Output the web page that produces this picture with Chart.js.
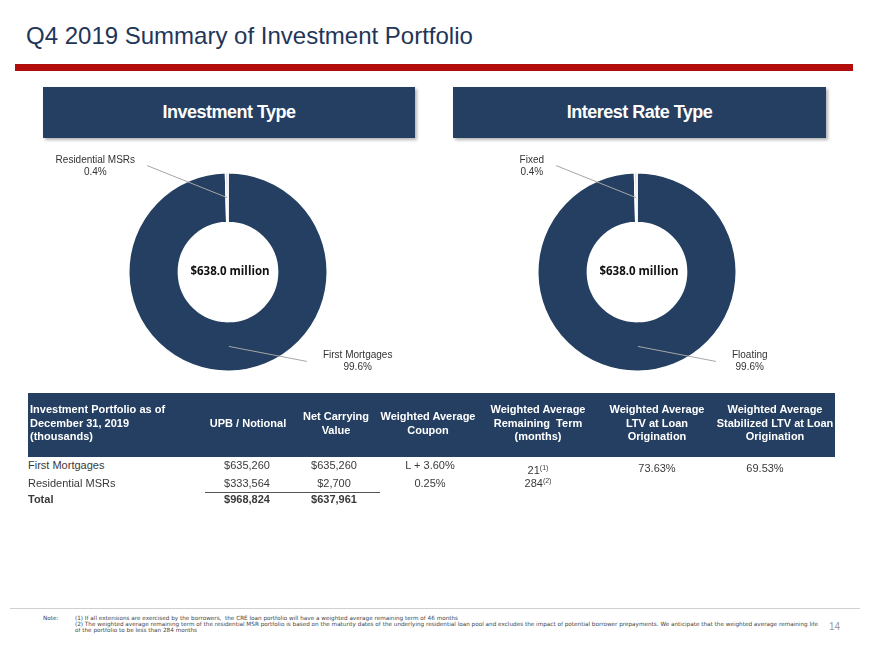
<!DOCTYPE html>
<html>
<head>
<meta charset="utf-8">
<script src="https://cdn.jsdelivr.net/npm/chart.js@4"></script>
<style>
  body { margin: 0; background: #fff; font-family: "Liberation Sans", Arial, sans-serif; }
  #page { position: relative; width: 870px; height: 652px; overflow: hidden; }
  .abs { position: absolute; }
  #title { left: 26px; top: 22px; font-size: 24px; color: #1f3658; white-space: nowrap; }
  #redline { left: 15px; top: 64px; width: 838px; height: 7px; background: #b10d0d; }
  .hbox { top: 87px; height: 51px; background: #243f61; color: #fff; font-weight: bold; font-size: 18px;
          letter-spacing: -0.5px; text-align: center; line-height: 51px; box-shadow: 2px 2px 3px rgba(0,0,0,0.3); }
  canvas { position: absolute; }
  #band { left: 28px; top: 393px; width: 807px; height: 64px; background: #243f61; }
  .th { color: #fff; font-weight: bold; font-size: 11px; line-height: 13.5px; text-align: center; white-space: nowrap; }
  .td { color: #3a3a3a; font-size: 11px; line-height: 13px; text-align: center; white-space: nowrap; }
  .td sup { font-size: 7px; vertical-align: 4px; }
  #totline { left: 205px; top: 492px; width: 175px; height: 1px; background: #555; }
  #footline { left: 10px; top: 608px; width: 850px; height: 1px; background: #d0d0d0; }
  .note { font-family: "DejaVu Sans", Verdana, sans-serif; font-size: 5.7px; line-height: 6.2px; color: #444; white-space: nowrap; }
  #pnum { left: 829px; top: 621px; font-size: 10px; color: #9a9a9a; }
</style>
</head>
<body>
<div id="page">
  <div id="title" class="abs">Q4 2019 Summary of Investment Portfolio</div>
  <div id="redline" class="abs"></div>
  <div class="abs hbox" style="left:43px;width:372px;">Investment Type</div>
  <div class="abs hbox" style="left:453px;width:373px;">Interest Rate Type</div>

  <canvas id="invChart" style="left:38px;top:140px;width:380px;height:264px;"></canvas>
  <canvas id="rateChart" style="left:447px;top:140px;width:380px;height:264px;"></canvas>

  <div id="band" class="abs"></div>
  <div id="table"></div>
  <div id="totline" class="abs"></div>

  <div id="footline" class="abs"></div>
  <div class="abs note" style="left:43px;top:615px;">Note:</div>
  <div class="abs note" style="left:75px;top:615px;">
    (1) If all extensions are exercised by the borrowers,&nbsp; the CRE loan portfolio will have a weighted average remaining term of 46 months<br>
    (2) The weighted average remaining term of the residential MSR portfolio is based on the maturity dates of the underlying residential loan pool and excludes the impact of potential borrower prepayments. We anticipate that the weighted average remaining life<br>
    of the portfolio to be less than 284 months
  </div>
  <div id="pnum" class="abs">14</div>
</div>

<script>
"use strict";

// chart data
const investLabels = ['First Mortgages', 'Residential MSRs'];
const investValues = [99.6, 0.4];
const rateLabels = ['Floating', 'Fixed'];
const rateValues = [99.6, 0.4];
const sliceColors = ['#243f61', '#c9d0d9'];
const centerText = '$638.0 million';

// table data
const tableHeaders = [
  'Investment Portfolio as of<br>December 31, 2019<br>(thousands)',
  'UPB / Notional',
  'Net Carrying<br>Value',
  'Weighted Average<br>Coupon',
  'Weighted Average<br>Remaining&nbsp; Term<br>(months)',
  'Weighted Average<br>LTV at Loan<br>Origination',
  'Weighted Average<br>Stabilized LTV at Loan<br>Origination'
];
const rowNames = ['First Mortgages', 'Residential MSRs', 'Total'];
const upbValues = ['$635,260', '$333,564', '$968,824'];
const carryingValues = ['$635,260', '$2,700', '$637,961'];
const couponValues = ['L + 3.60%', '0.25%', ''];
const termValues = ['21<sup>(1)</sup>', '284<sup>(2)</sup>', ''];
const ltvValues = ['73.63%'];
const stabLtvValues = ['69.53%'];

// label offsets for leader lines (dx, dy from slice midpoint)
const investLabelPos = [[78, 15, 'left'], [-80, -32, 'right']];
const rateLabelPos = [[78, 15, 'left'], [-80, -32, 'right']];

const leaderPlugin = {
  id: 'leaders',
  afterDraw(chart, args, opts) {
    const ctx = chart.ctx;
    const meta = chart.getDatasetMeta(0);
    const data = chart.data.datasets[0].data;
    const total = data.reduce((a, b) => a + b, 0);
    ctx.save();
    meta.data.forEach((arc, i) => {
      const mid = (arc.startAngle + arc.endAngle) / 2;
      const r = (arc.innerRadius + arc.outerRadius) / 2;
      const x0 = arc.x + Math.cos(mid) * r;
      const y0 = arc.y + Math.sin(mid) * r;
      const p = opts.pos[i];
      const x1 = x0 + p[0];
      const y1 = y0 + p[1];
      ctx.strokeStyle = '#a6a6a6';
      ctx.lineWidth = 1;
      ctx.beginPath();
      ctx.moveTo(x0, y0);
      ctx.lineTo(x1, y1);
      ctx.stroke();
      ctx.fillStyle = '#333';
      ctx.font = '10px "Liberation Sans", Arial, sans-serif';
      ctx.textAlign = 'center';
      ctx.textBaseline = 'middle';
      const label = chart.data.labels[i];
      const pct = (data[i] / total * 100).toFixed(1) + '%';
      const w = ctx.measureText(label).width;
      let cx;
      if (p[2] === 'left') {
        cx = x1 + 16 + w / 2;
      } else {
        cx = x1 - 12 - w / 2;
      }
      const cy = p[2] === 'left' ? y1 : y1 + 1;
      ctx.fillText(label, cx, cy - 6);
      ctx.fillText(pct, cx, cy + 6);
    });
    // center text
    ctx.fillStyle = '#111';
    ctx.font = 'bold 11.5px "Open Sans", sans-serif';
    ctx.textAlign = 'center';
    ctx.textBaseline = 'middle';
    ctx.fillText(opts.center, meta.data[0].x + 2, meta.data[0].y);
    ctx.restore();
  }
};

const makeDoughnut = (id, labels, values, pos) => {
  const ctx = document.getElementById(id).getContext('2d');
  return new Chart(ctx, {
    type: 'doughnut',
    data: {
      labels: labels,
      datasets: [{
        data: values,
        backgroundColor: sliceColors,
        borderColor: '#ffffff',
        borderWidth: 1.5
      }]
    },
    options: {
      responsive: false,
      animation: false,
      cutout: '50%',
      layout: { padding: { top: 32, bottom: 32, left: 0, right: 0 } },
      plugins: {
        legend: { display: false },
        tooltip: { enabled: false },
        leaders: { pos: pos, center: centerText }
      }
    },
    plugins: [leaderPlugin]
  });
};

const sizeCanvas = (id) => {
  const c = document.getElementById(id);
  c.width = 380;
  c.height = 264;
};
sizeCanvas('invChart');
sizeCanvas('rateChart');
makeDoughnut('invChart', investLabels, investValues, investLabelPos);
makeDoughnut('rateChart', rateLabels, rateValues, rateLabelPos);

// build table
const headerCols = [
  { x: 30, w: 170, align: 'left' },
  { x: 248, w: 100 },
  { x: 336, w: 80 },
  { x: 428, w: 100 },
  { x: 538, w: 120 },
  { x: 657, w: 120 },
  { x: 775, w: 130 }
];
const headerTops = [403, 417, 410, 410, 403, 403, 403];
const table = document.getElementById('table');

const addCell = (cls, html, col, top, align) => {
  const d = document.createElement('div');
  d.className = 'abs ' + cls;
  d.innerHTML = html;
  if (align === 'left') {
    d.style.left = col.x + 'px';
    d.style.textAlign = 'left';
  } else {
    d.style.left = (col.x - col.w / 2) + 'px';
    d.style.width = col.w + 'px';
  }
  d.style.top = top + 'px';
  table.append(d);
  return d;
};

tableHeaders.forEach((h, i) => {
  addCell('th', h, headerCols[i], headerTops[i], headerCols[i].align);
});

const rowTops = [459, 477, 493];
const valueCols = [
  { x: 28, align: 'left' },
  { x: 247, w: 100 },
  { x: 334, w: 80 },
  { x: 430, w: 100 },
  { x: 538, w: 100 },
  { x: 657, w: 100 },
  { x: 765, w: 100 }
];
const termTops = [461, 474];
rowNames.forEach((name, r) => {
  const bold = r === rowNames.length - 1;
  const cells = [name, upbValues[r], carryingValues[r], couponValues[r]];
  cells.forEach((v, c) => {
    const d = addCell('td', v, valueCols[c], rowTops[r], valueCols[c].align);
    if (bold) d.style.fontWeight = 'bold';
  });
  if (termValues[r]) {
    addCell('td', termValues[r], valueCols[4], termTops[r]);
  }
});
addCell('td', ltvValues[0], valueCols[5], rowTops[0] + 3);
addCell('td', stabLtvValues[0], valueCols[6], rowTops[0] + 3);
</script>
</body>
</html>
